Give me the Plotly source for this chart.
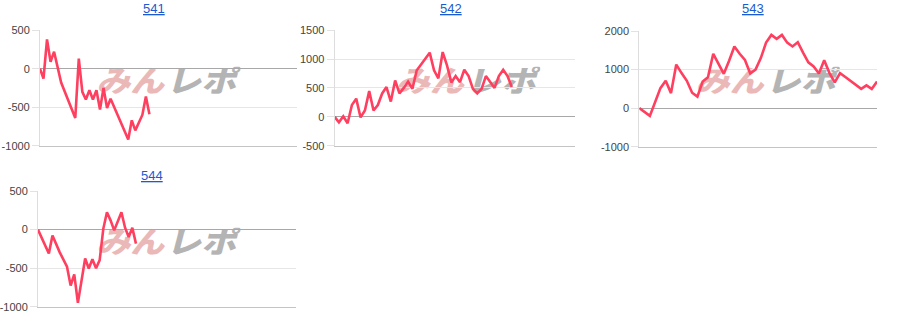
import base64
import plotly.graph_objects as go

# ---------------- data ----------------
titles = ["541", "542", "543", "544"]

x541 = [0, 1, 2, 3, 4, 6, 10, 11, 12, 13, 14, 15, 16, 17, 18, 19, 20, 25, 26, 27, 29, 30, 31]
y541 = [0, -130, 380, 90, 220, -180, -640, 130, -300, -400, -280, -400, -280, -530, -250, -510,
        -390, -920, -670, -800, -600, -360, -590]

x542 = list(range(42))
y542 = [0, -95, 10, -110, 205, 315, -10, 110, 445, 110, 205, 405, 515, 265, 630, 405, 500, 610,
        485, 805, 905, 1000, 1110, 805, 665, 1120, 890, 595, 705, 600, 815, 705, 485, 405, 485,
        705, 595, 500, 705, 815, 705, 515]

x543 = [0, 2, 4, 5, 6, 7, 8, 9, 10, 11, 12, 13, 14, 15, 16, 17, 18, 19, 20, 21, 22, 23, 24, 25,
        26, 27, 28, 29, 30, 31, 32, 33, 34, 35, 36, 37, 38, 39, 40, 41, 42, 43, 44, 45]
y543 = [0, -200, 520, 710, 390, 1130, 910, 710, 400, 300, 690, 800, 1410, 1130, 890, 1230, 1600,
        1410, 1250, 900, 1000, 1300, 1700, 1900, 1800, 1900, 1700, 1600, 1710, 1440, 1190, 1080,
        900, 1240, 910, 670, 910, 810, 710, 600, 500, 590, 500, 690]

x544 = [0, 3, 4, 6, 8, 9, 10, 11, 13, 14, 15, 16, 17, 18, 19, 20, 21, 23, 24, 25, 26, 27]
y544 = [0, -310, -75, -295, -480, -725, -580, -950, -375, -505, -385, -500, -395, 10, 225, 120,
        -10, 225, 25, -95, 25, -182]

xs = [x541, x542, x543, x544]
ys = [y541, y542, y543, y544]

tick_vals = [[-1000, -500, 0, 500], [-500, 0, 500, 1000, 1500],
             [-1000, 0, 1000, 2000], [-1000, -500, 0, 500]]
tick_text = [["-1000", "-500", "0", "500"], ["-500", "0", "500", "1000", "1500"],
             ["-1000", "0", "1000", "2000"], ["-1000", "-500", "0", "500"]]
y_ranges = [[-1000, 500], [-500, 1500], [-1000, 2000], [-1000, 500]]
x_ranges = [[0, 72.7], [0, 55.7], [0, 45], [0, 71]]

# ---------------- layout (pixels) ----------------
W, H = 900, 332
# plot areas: (left, right, top, bottom) in px
areas = [(39, 296, 25, 145), (334, 575, 25, 145), (639, 877, 26, 146), (37, 295, 192, 312)]
title_pos = [(153, 2.8), (451, 2.8), (753, 2.8), (151, 176)]
cell_origin = [(0, 0), (300, 0), (600, 0), (0, 167)]

LINE_COLOR = "#ff3f5f"

fig = go.Figure()

for i in range(4):
    ax = "" if i == 0 else str(i + 1)
    fig.add_trace(go.Scatter(
        x=xs[i], y=ys[i], mode="lines",
        line=dict(color=LINE_COLOR, width=2.6),
        xaxis="x" + ax, yaxis="y" + ax, showlegend=False, hoverinfo="skip"))

    l, r, t, b = areas[i]
    fig.layout["xaxis" + ax] = dict(
        domain=[l / W, r / W], range=x_ranges[i], anchor="y" + ax,
        showgrid=False, zeroline=False, showticklabels=False, ticks="",
        showline=True, linecolor="#c4c4c4", linewidth=1, fixedrange=True)
    fig.layout["yaxis" + ax] = dict(
        domain=[1 - b / H, 1 - t / H], range=y_ranges[i], anchor="x" + ax,
        tickmode="array", tickvals=tick_vals[i], ticktext=tick_text[i],
        showgrid=True, gridcolor="#e6e6e6", gridwidth=1,
        zeroline=True, zerolinecolor="#a8a8a8", zerolinewidth=1,
        showline=True, linecolor="#dddddd", linewidth=1,
        ticks="outside", ticklen=7, tickcolor="#e2e2e2", tickwidth=1,
        tickfont=dict(family="Liberation Sans, Arial, sans-serif", size=11, color="#444444"),
        fixedrange=True)

    tx, ty = title_pos[i]
    fig.add_annotation(
        text="<u>" + titles[i] + "</u>", xref="paper", yref="paper",
        x=tx / W, y=1 - ty / H, xanchor="center", yanchor="middle", showarrow=False,
        font=dict(family="Liberation Sans, Arial, sans-serif", size=13, color="#1a5bd0"))

# watermark (logo-like text), drawn beneath the data
svg = (
    "<svg xmlns='http://www.w3.org/2000/svg' width='144' height='28' viewBox='0 0 144 28'>"
    "<g transform='skewX(-14) translate(6,0)'>"
    "<text x='0' y='26' font-family='Noto Sans CJK JP' font-weight='900' font-size='31' "
    "textLength='68' lengthAdjust='spacingAndGlyphs' fill='#ebb8b8'>みん</text>"
    "<text x='70' y='26' font-family='Noto Sans CJK JP' font-weight='900' font-size='31' "
    "textLength='70' lengthAdjust='spacingAndGlyphs' fill='#b4b4b4'>レポ</text>"
    "</g></svg>"
)
src = "data:image/svg+xml;base64," + base64.b64encode(svg.encode("utf-8")).decode("ascii")
images = []
for (cx, cy) in cell_origin:
    images.append(dict(
        source=src, xref="paper", yref="paper",
        x=(cx + 96) / W, y=1 - (cy + 63) / H,
        sizex=144 / W, sizey=28 / H, xanchor="left", yanchor="top",
        sizing="stretch", layer="below", opacity=1))

fig.update_layout(
    width=W, height=H, margin=dict(l=0, r=0, t=0, b=0),
    paper_bgcolor="white", plot_bgcolor="rgba(0,0,0,0)",
    images=images, showlegend=False,
    font=dict(family="Liberation Sans, Arial, sans-serif"))

fig.write_html("out.html", config={"displayModeBar": False})
